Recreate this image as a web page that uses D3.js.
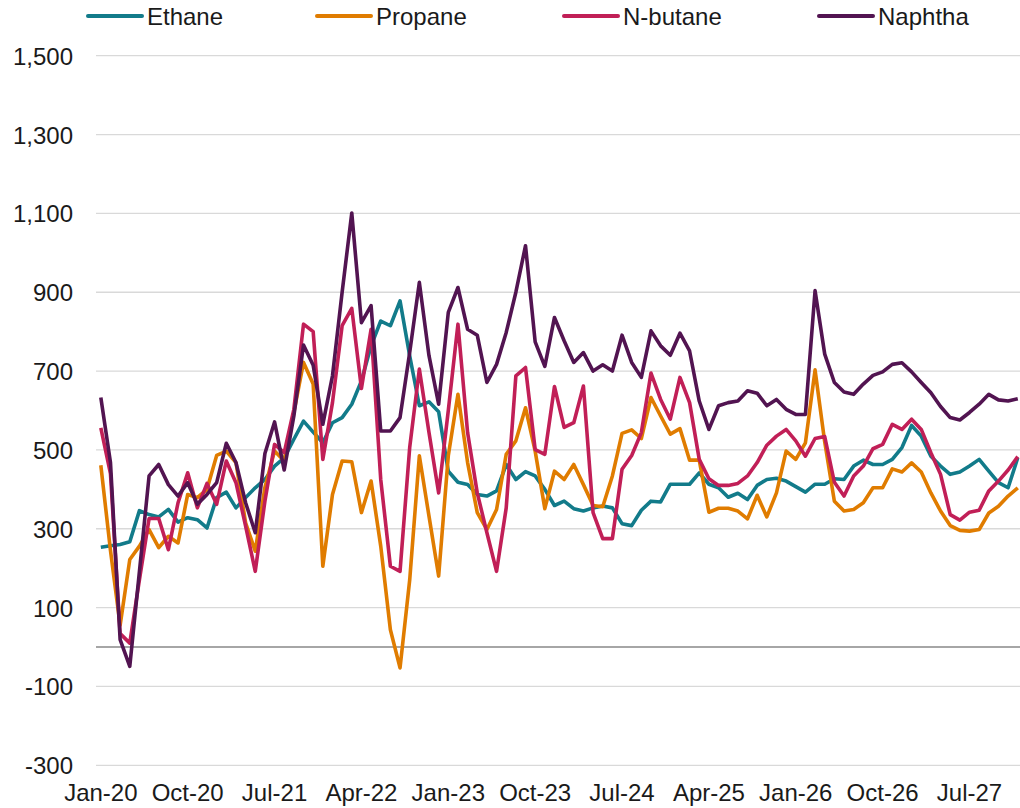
<!DOCTYPE html>
<html>
<head>
<meta charset="utf-8">
<script src="https://cdn.jsdelivr.net/npm/d3@7"></script>
<style>
    body { margin: 0; background: white; }
    text { font-family: "Liberation Sans", Arial, sans-serif; fill: #1a1a1a; }
</style>
</head>
<body>
<div id="chart"></div>
<script>
// Month labels Jan-20 .. Dec-27
const monthNames = ["Jan", "Feb", "Mar", "Apr", "May", "Jun", "Jul", "Aug", "Sep", "Oct", "Nov", "Dec"];
const years = ["20", "21", "22", "23", "24", "25", "26", "27"];
const months = [];
years.forEach(y => monthNames.forEach(m => months.push(m + "-" + y)));

// Tick labels shown on the x axis
const xTicks = ["Jan-20", "Oct-20", "Jul-21", "Apr-22", "Jan-23", "Oct-23", "Jul-24", "Apr-25", "Jan-26", "Oct-26", "Jul-27"];
const yTicks = [-300, -100, 100, 300, 500, 700, 900, 1100, 1300, 1500];

// Series values
const ethane = [253, 257, 260, 267, 346, 336, 330, 349, 317, 328, 323, 302,
    379, 393, 353, 379, 404, 425, 459, 480, 527, 573, 545, 518,
    569, 582, 616, 675, 764, 827, 815, 878, 739, 612, 622, 597,
    446, 418, 412, 387, 383, 396, 463, 425, 445, 434, 400, 359,
    370, 351, 345, 353, 358, 353, 313, 308, 347, 370, 368, 413,
    413, 413, 442, 413, 404, 380, 390, 374, 410, 425, 428, 421,
    407, 393, 413, 413, 427, 425, 459, 474, 463, 463, 476, 506,
    562, 535, 484, 459, 438, 444, 459, 476, 446, 417, 404, 480];

const propane = [461, 245, 55, 222, 256, 298, 252, 281, 264, 387, 379, 400,
    486, 497, 468, 315, 243, 405, 497, 472, 595, 722, 667, 205,
    387, 472, 470, 341, 421, 256, 44, -53, 170, 485, 332, 180,
    485, 641, 468, 341, 298, 349, 489, 523, 607, 497, 351, 446,
    425, 463, 412, 359, 356, 434, 542, 551, 529, 633, 586, 540,
    554, 474, 474, 342, 352, 352, 345, 325, 385, 330, 391, 497,
    476, 518, 703, 520, 370, 345, 349, 366, 404, 404, 452, 444,
    467, 444, 391, 345, 308, 296, 294, 298, 340, 357, 383, 404];

const nbutane = [556, 440, 34, 10, 171, 326, 326, 247, 366, 442, 353, 415,
    362, 472, 417, 307, 192, 370, 514, 493, 603, 819, 800, 476,
    620, 815, 859, 656, 806, 425, 205, 192, 506, 705, 544, 391,
    600, 819, 544, 391, 290, 192, 353, 688, 709, 501, 489, 661,
    557, 569, 662, 341, 275, 275, 451, 486, 544, 695, 628, 578,
    684, 620, 476, 427, 410, 410, 415, 434, 468, 512, 535, 552,
    523, 484, 529, 534, 418, 383, 434, 459, 503, 514, 565, 552,
    578, 552, 493, 438, 336, 322, 342, 347, 396, 421, 449, 483];

const naphtha = [633, 468, 19, -49, 192, 434, 463, 412, 383, 417, 362, 387,
    417, 517, 468, 366, 290, 491, 571, 449, 586, 766, 715, 565,
    688, 900, 1101, 823, 866, 548, 548, 582, 747, 925, 739, 616,
    849, 912, 806, 791, 671, 717, 798, 900, 1018, 774, 712, 836,
    777, 722, 747, 700, 716, 700, 791, 722, 684, 802, 764, 740,
    796, 751, 624, 552, 612, 620, 624, 650, 644, 612, 628, 603,
    590, 590, 904, 743, 671, 647, 641, 667, 689, 698, 717, 721,
    698, 671, 645, 610, 582, 576, 595, 616, 641, 627, 624, 630];

const seriesNames = ["Ethane", "Propane", "N-butane", "Naphtha"];
const seriesValues = [ethane, propane, nbutane, naphtha];
const colors = ["#127b8a", "#e07c00", "#c11f57", "#521451"];

// SVG dimensions
const w = 1020;
const h = 808;
const left = 96;
const step = 9.652;

const svg = d3.select("#chart")
    .append("svg")
    .attr("width", w)
    .attr("height", h);

// Scales
const xScale = d3.scaleBand()
    .domain(months)
    .range([left, left + months.length * step])
    .padding(0);

const yScale = d3.scaleLinear()
    .domain([-300, 1500])
    .range([765.3, 55.7]);

const xMid = d => xScale(d) + xScale.bandwidth() / 2;

// Gridlines
svg.selectAll("line.grid")
    .data(yTicks)
    .enter()
    .append("line")
    .attr("class", "grid")
    .attr("x1", left)
    .attr("x2", w)
    .attr("y1", d => yScale(d))
    .attr("y2", d => yScale(d))
    .attr("stroke", "#d9d9d9")
    .attr("stroke-width", 1.3);

// Zero line
svg.append("line")
    .attr("x1", left)
    .attr("x2", w)
    .attr("y1", yScale(0))
    .attr("y2", yScale(0))
    .attr("stroke", "#a6a6a6")
    .attr("stroke-width", 2);

// Y axis labels (plain hyphen for negatives, like the original)
const yAxis = d3.axisLeft(yScale)
    .tickValues(yTicks)
    .tickSize(0)
    .tickPadding(0)
    .tickFormat(d => d3.format(",")(d).replace("\u2212", "-"));

svg.append("g")
    .attr("transform", "translate(73,0)")
    .call(yAxis)
    .call(g => g.select(".domain").remove())
    .selectAll("text")
    .attr("font-size", "24px")
    .attr("font-family", "Liberation Sans, Arial, sans-serif")
    .attr("fill", "#1a1a1a")
    .attr("dy", null)
    .attr("dominant-baseline", "central");

// X axis labels
const xAxis = d3.axisBottom(xScale)
    .tickValues(xTicks)
    .tickSize(0)
    .tickPadding(0);

svg.append("g")
    .attr("transform", "translate(0,784)")
    .call(xAxis)
    .call(g => g.select(".domain").remove())
    .selectAll("text")
    .attr("font-size", "24px")
    .attr("font-family", "Liberation Sans, Arial, sans-serif")
    .attr("fill", "#1a1a1a");

// Lines
const line = d3.line()
    .x((d, i) => xMid(months[i]))
    .y(d => yScale(d));

seriesValues.forEach((vals, k) => {
    svg.append("path")
        .datum(vals)
        .attr("fill", "none")
        .attr("stroke", colors[k])
        .attr("stroke-width", 3.6)
        .attr("stroke-linejoin", "round")
        .attr("d", line);
});

// Legend
const legendX = [88, 317, 564, 819];

const legend = svg.selectAll("g.legend")
    .data(seriesNames)
    .enter()
    .append("g")
    .attr("class", "legend")
    .attr("transform", (d, i) => "translate(" + legendX[i] + ",16)");

legend.append("line")
    .attr("x1", 0)
    .attr("x2", 54)
    .attr("stroke", (d, i) => colors[i])
    .attr("stroke-width", 4)
    .attr("stroke-linecap", "round");

legend.append("text")
    .attr("x", 59)
    .attr("dominant-baseline", "central")
    .attr("font-size", "24px")
    .text(d => d);
</script>
</body>
</html>
